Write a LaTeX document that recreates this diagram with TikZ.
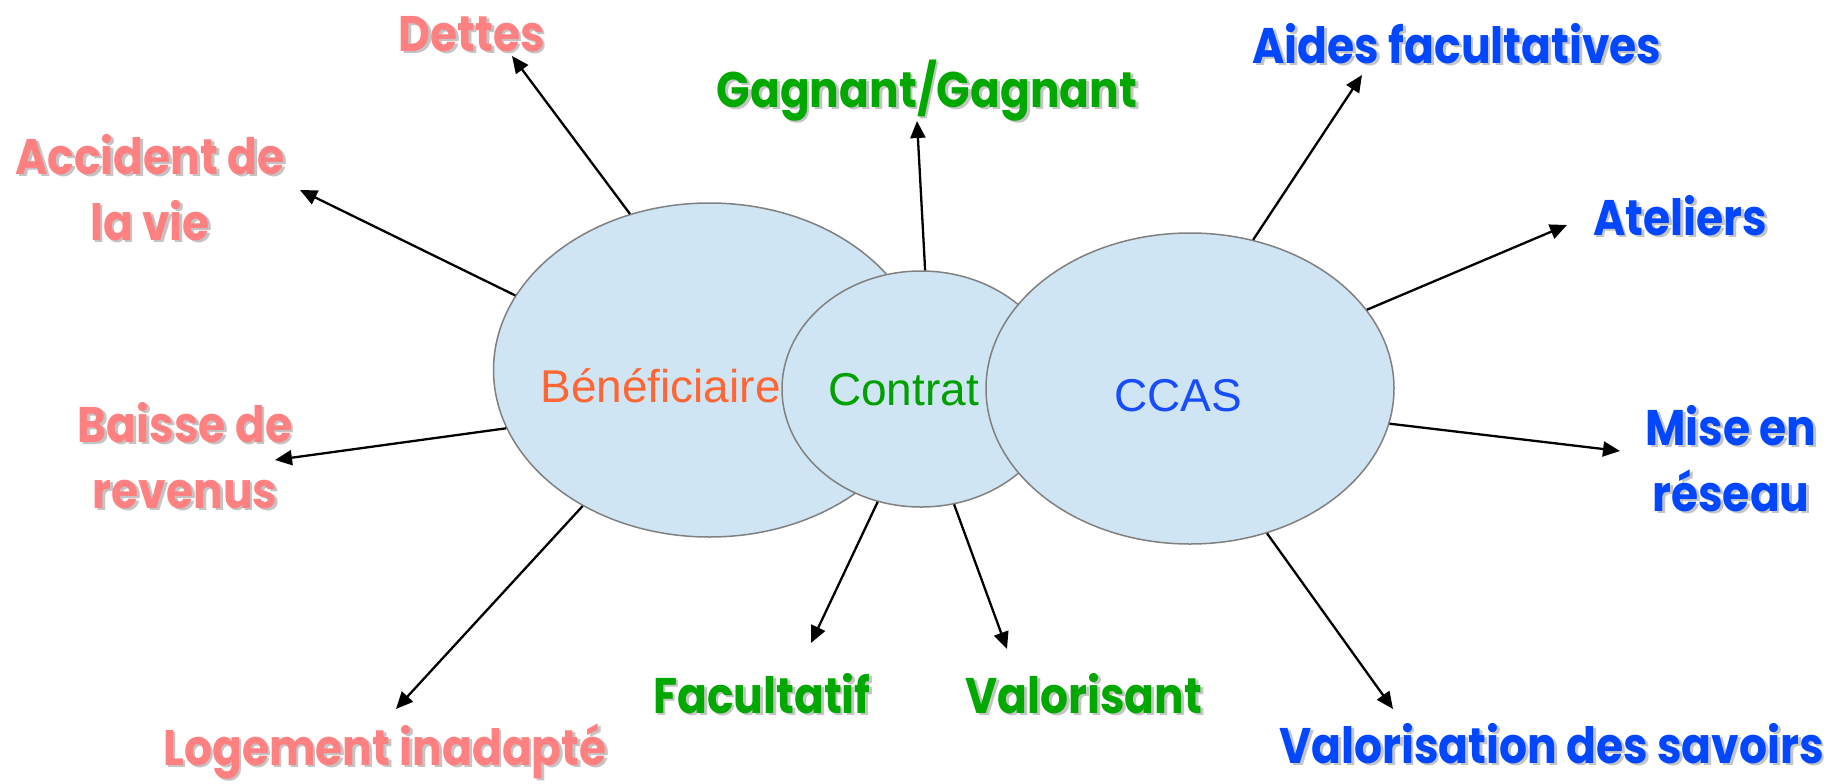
\documentclass[tikz,border=0pt]{standalone}
\usepackage{fontspec}
\setmainfont{Liberation Sans}
\newfontfamily\labfont{Poppins}[FakeStretch=0.88]
\usetikzlibrary{shapes.geometric,arrows.meta}
\definecolor{fillc}{HTML}{CFE5F3}
\definecolor{edgec}{HTML}{808080}
\definecolor{pinkc}{HTML}{FF8080}
\definecolor{greenc}{HTML}{00A800}
\definecolor{bluec}{HTML}{0047FF}
\definecolor{orangec}{HTML}{FF6633}
\definecolor{contc}{HTML}{00A000}
\definecolor{ccasc}{HTML}{1A4CFF}
\definecolor{shadowc}{HTML}{C4C4C4}
\newcommand\shd[1]{\makebox[0pt][l]{\hspace{1.4pt}\raisebox{-1.4pt}{\color{shadowc}#1}}#1}
\begin{document}
\begin{tikzpicture}[x=0.5pt,y=-0.5pt,
  blob/.style={ellipse, draw=edgec, line width=0.75pt, fill=fillc, inner sep=0pt},
  lab/.style={font=\labfont\bfseries\fontsize{25pt}{33pt}\selectfont, align=center, anchor=base, inner sep=0pt},
  inlab/.style={font=\fontsize{23pt}{28pt}\selectfont, anchor=base, inner sep=0pt},
  arr/.style={-{Triangle[length=8.5pt,width=7.5pt]}, line width=1.15pt}]
\useasboundingbox[fill=white] (0,0) rectangle (1843,783);
% ellipses
\node[blob, minimum width=216pt, minimum height=167pt] (ben) at (709.5,370) {};
\node[blob, minimum width=139pt, minimum height=118pt] (con) at (921,389) {};
\node[blob, minimum width=204pt, minimum height=155.5pt] (ccas) at (1190,388.5) {};
% inner texts
\node[inlab, text=orangec] (tben) at (660.5,402) {Bénéficiaire};
\node[inlab, text=contc] (tcon) at (903.5,405) {Contrat};
\node[inlab, text=ccasc] (tccas) at (1178,411) {CCAS};
% outer labels (base anchor = baseline of the last line)
\node[lab, text=pinkc] (dettes) at (471.5,51) {\shd{Dettes}};
\node[lab, text=pinkc] (accident) at (150,240) {\shd{Accident de}\\\shd{la vie}};
\node[lab, text=pinkc] (baisse) at (185,508) {\shd{Baisse de}\\\shd{revenus}};
\node[lab, text=pinkc] (logement) at (385,765) {\shd{Logement inadapté}};
\node[lab, text=greenc] (gagnant) at (927,107) {\shd{Gagnant/Gagnant}};
\node[lab, text=greenc] (facultatif) at (762,713) {\shd{Facultatif}};
\node[lab, text=greenc] (valorisant) at (1084,713) {\shd{Valorisant}};
\node[lab, text=bluec] (aides) at (1457,63) {\shd{Aides facultatives}};
\node[lab, text=bluec] (ateliers) at (1680,235) {\shd{Ateliers}};
\node[lab, text=bluec] (mise) at (1731,511) {\shd{Mise en}\\\shd{réseau}};
\node[lab, text=bluec] (savoirs) at (1551.5,763) {\shd{Valorisation des savoirs}};
% arrow tips
\coordinate (pDet) at (512,56);
\coordinate (pAcc) at (300,190);
\coordinate (pBai) at (275,460);
\coordinate (pLog) at (396,709);
\coordinate (pGag) at (917,121);
\coordinate (pFac) at (811,643);
\coordinate (pVal) at (1007,649);
\coordinate (pAid) at (1362,75);
\coordinate (pAte) at (1567,225);
\coordinate (pMis) at (1620,451);
\coordinate (pSav) at (1393,709);
% connectors
\draw[arr] (ben.117) -- (pDet);
\draw[arr] (ben.159) -- (pAcc);
\draw[arr] (ben.196) -- (pBai);
\draw[arr] (ben.227) -- (pLog);
\draw[arr] (con.88) -- (pGag);
\draw[arr] (con.249) -- (pFac);
\draw[arr] (con.286) -- (pVal);
\draw[arr] (ccas.67) -- (pAid);
\draw[arr] (ccas.24) -- (pAte);
\draw[arr] (ccas.350) -- (pMis);
\draw[arr] (ccas.298) -- (pSav);
\end{tikzpicture}
\end{document}
